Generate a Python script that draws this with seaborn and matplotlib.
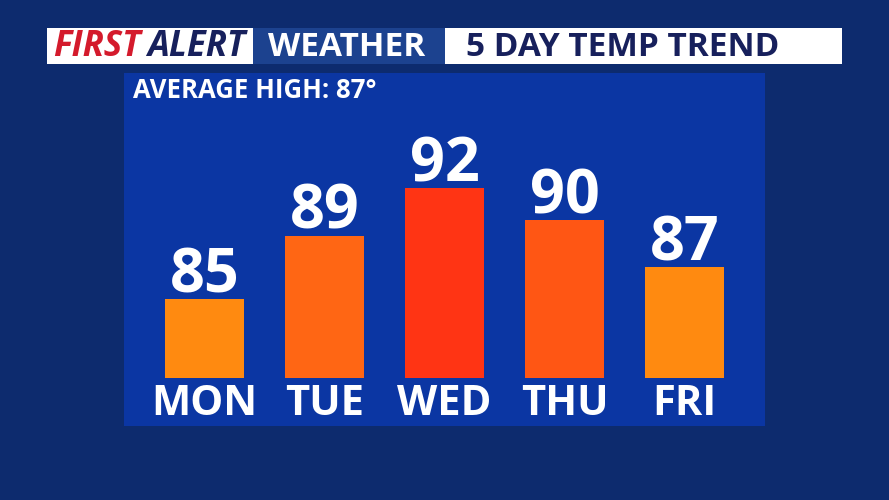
import matplotlib
matplotlib.use("Agg")
import matplotlib.pyplot as plt
from matplotlib.patches import Rectangle
import seaborn as sns
import pandas as pd

# data
days = ["MON", "TUE", "WED", "THU", "FRI"]
highs = [85, 89, 92, 90, 87]
bar_colors = ["#ff8a10", "#ff6614", "#ff3414", "#ff5614", "#ff8a10"]
base_temp = 80
title_left = "FIRST"
title_left2 = "ALERT"
title_mid = "WEATHER"
title_right = "5 DAY TEMP TREND"
avg_label = "AVERAGE HIGH: 87°"

sns.set_theme(style="white")
plt.rcParams["font.family"] = ["Open Sans", "DejaVu Sans"]

df = pd.DataFrame({"day": days, "high": highs})
df["above"] = df["high"] - base_temp

fig = plt.figure(figsize=(8.89, 5), dpi=100)
fig.patch.set_facecolor("#0d2b6e")

# header boxes (figure fraction)
def box(x0, x1, color):
    fig.patches.append(Rectangle((x0 / 889, 1 - 64 / 500), (x1 - x0) / 889, 36 / 500,
                                 transform=fig.transFigure, facecolor=color,
                                 edgecolor="none", zorder=0))

box(47, 253, "white")
box(253, 445, "#1c428f")
box(445, 842, "white")

hy = 1 - 47 / 500
fig.text(53 / 889, hy, title_left, color="#d41a2c", fontsize=25, fontweight="bold",
         style="italic", va="center", ha="left")
fig.text(147 / 889, hy, title_left2, color="#17205c", fontsize=25, fontweight="bold",
         style="italic", va="center", ha="left")
fig.text(347 / 889, hy, title_mid, color="white", fontsize=24, fontweight="bold",
         va="center", ha="center")
fig.text(623 / 889, hy, title_right, color="#17205c", fontsize=24, fontweight="bold",
         va="center", ha="center")

# main panel
ax = fig.add_axes([124 / 889, 74 / 500, 641 / 889, 353 / 500])
ax.set_facecolor("#0b36a3")

sns.barplot(data=df, x="day", y="above", hue="day", palette=bar_colors,
            legend=False, width=0.66, saturation=1, linewidth=0, ax=ax)

ax.set_xlim(-0.67, 4.67)
ax.set_ylim(-3.04, 19.3)

for i, (d, t) in enumerate(zip(days, highs)):
    ax.annotate(str(t), (i, t - base_temp), xytext=(0, 5), textcoords="offset points",
                ha="center", va="baseline", color="white", fontsize=44, fontweight="bold")
    ax.annotate(d, (i, 0), xytext=(0, -26.5), textcoords="offset points",
                ha="center", va="baseline", color="white", fontsize=30, fontweight="bold")

ax.text(0.014, 0.95, avg_label, transform=ax.transAxes, color="white",
        fontsize=18.5, fontweight="bold", ha="left", va="center")

ax.set_xticks([])
ax.set_yticks([])
ax.set_xlabel("")
ax.set_ylabel("")
for s in ax.spines.values():
    s.set_visible(False)

fig.savefig("out.png", dpi=100, facecolor=fig.get_facecolor())
